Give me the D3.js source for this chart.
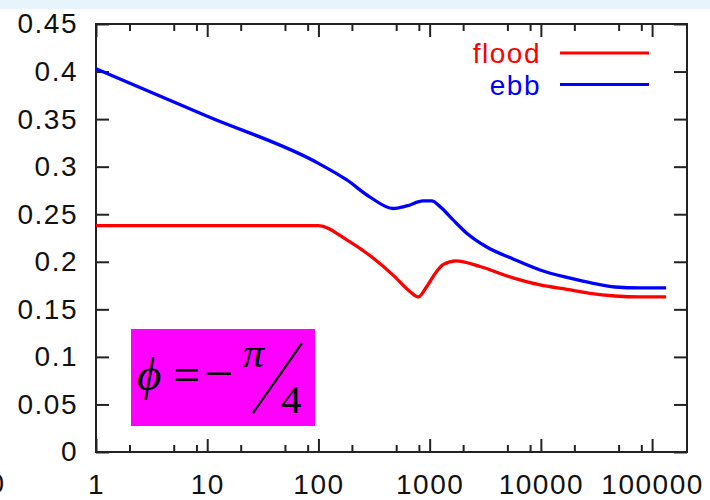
<!DOCTYPE html>
<head>
    <style>
        body {
            margin: 0;
            background: #fff;
            font-family: "Liberation Sans", Arial, sans-serif;
        }

        .axis text {
            font-size: 28px;
            letter-spacing: 1.5px;
            fill: #111;
        }

        .axis line {
            stroke: #222;
            stroke-width: 2px;
        }

        .axis path {
            display: none;
        }

        .formula text {
            font-family: "Liberation Serif", "DejaVu Serif", serif;
            fill: #000;
        }
    </style>

    <script src='https://d3js.org/d3.v7.min.js'></script>
</head>
<body>
    <script>
        const width = 710,
            height = 500;

        // plot box (pixels)
        const plotLeft = 96, plotRight = 687, plotTop = 24, plotBottom = 452;

        // DATA
        const floodX = [1, 10, 100, 180, 310, 469, 667, 787, 942, 1159, 1318, 1727, 2838, 5623, 9840, 17200, 27700, 46400, 78000, 133600];
        const floodY = [0.238, 0.238, 0.238, 0.223, 0.204, 0.186, 0.1685, 0.163, 0.174, 0.19, 0.197, 0.201, 0.195, 0.183, 0.1756, 0.1709, 0.1667, 0.164, 0.163, 0.163];

        const ebbX = [1, 10, 100, 180, 291, 469, 622, 872, 1045, 1241, 1625, 2157, 3262, 5623, 9840, 17200, 27700, 46400, 78000, 133600];
        const ebbY = [0.403, 0.353, 0.3035, 0.286, 0.268, 0.256, 0.2587, 0.264, 0.264, 0.258, 0.244, 0.23, 0.2155, 0.203, 0.1914, 0.1835, 0.178, 0.1735, 0.1725, 0.1725];

        const xTicks = [1, 10, 100, 1000, 10000, 100000];
        const xTickLabels = ['1', '10', '100', '1000', '10000', '100000'];
        const xMinorTicks = [2, 5, 8, 20, 50, 80, 200, 500, 800, 2000, 5000, 8000, 20000, 50000, 80000];
        const yTicks = [0, 0.05, 0.1, 0.15, 0.2, 0.25, 0.3, 0.35, 0.4, 0.45];
        const yTickLabels = ['0', '0.05', '0.1', '0.15', '0.2', '0.25', '0.3', '0.35', '0.4', '0.45'];

        const seriesNames = ['flood', 'ebb'];
        const seriesColors = ['#ff0000', '#0000ff'];

        const x = d3.scaleLog()
            .domain([1, 206000])
            .range([plotLeft, plotRight]);

        const y = d3.scaleLinear()
            .domain([0, 0.45])
            .range([plotBottom, plotTop]);

        const svg = d3.select('body').append('svg')
            .attr('width', width)
            .attr('height', height);

        // light blue strip at the top of the screenshot
        svg.append('rect')
            .attr('x', 0).attr('y', 0)
            .attr('width', width).attr('height', 9)
            .attr('fill', '#e8f4fc');

        // stray clipped label at the left edge
        svg.append('text')
            .attr('x', 4).attr('y', 493)
            .attr('text-anchor', 'end')
            .style('font-size', '28px')
            .style('fill', '#111')
            .text('0');

        // AXES (ticks point inward)
        svg.append('g').attr('class', 'axis')
            .attr('transform', `translate(0,${plotBottom})`)
            .call(d3.axisBottom(x).tickValues(xTicks)
                .tickFormat((d, i) => xTickLabels[i])
                .tickSizeInner(-13).tickSizeOuter(0).tickPadding(22));

        svg.append('g').attr('class', 'axis')
            .attr('transform', `translate(0,${plotBottom})`)
            .call(d3.axisBottom(x).tickValues(xMinorTicks).tickFormat('')
                .tickSizeInner(-7).tickSizeOuter(0));

        svg.append('g').attr('class', 'axis')
            .attr('transform', `translate(0,${plotTop})`)
            .call(d3.axisTop(x).tickValues(xTicks).tickFormat('')
                .tickSizeInner(-13).tickSizeOuter(0));

        svg.append('g').attr('class', 'axis')
            .attr('transform', `translate(0,${plotTop})`)
            .call(d3.axisTop(x).tickValues(xMinorTicks).tickFormat('')
                .tickSizeInner(-7).tickSizeOuter(0));

        svg.append('g').attr('class', 'axis')
            .attr('transform', `translate(${plotLeft},0)`)
            .call(d3.axisLeft(y).tickValues(yTicks)
                .tickFormat((d, i) => yTickLabels[i])
                .tickSizeInner(-13).tickSizeOuter(0).tickPadding(18));

        svg.append('g').attr('class', 'axis')
            .attr('transform', `translate(${plotRight},0)`)
            .call(d3.axisRight(y).tickValues(yTicks).tickFormat('')
                .tickSizeInner(-13).tickSizeOuter(0));

        // frame
        svg.append('rect')
            .attr('x', plotLeft).attr('y', plotTop)
            .attr('width', plotRight - plotLeft).attr('height', plotBottom - plotTop)
            .attr('fill', 'none')
            .attr('stroke', '#222')
            .attr('stroke-width', 2);

        // LINES
        const line = d3.line()
            .x(d => x(d[0]))
            .y(d => y(d[1]))
            .curve(d3.curveMonotoneX);

        const series = [d3.zip(floodX, floodY), d3.zip(ebbX, ebbY)];

        svg.selectAll('path.series')
            .data(series)
            .enter().append('path')
            .attr('class', 'series')
            .attr('d', line)
            .attr('fill', 'none')
            .attr('stroke', (d, i) => seriesColors[i])
            .attr('stroke-width', 3.3)
            .attr('stroke-linejoin', 'round');

        // LEGEND
        const legend = svg.selectAll('g.legend')
            .data(seriesNames)
            .enter().append('g')
            .attr('class', 'legend')
            .attr('transform', (d, i) => `translate(0,${53 + i * 31.5})`);

        legend.append('text')
            .attr('x', 541)
            .attr('y', 10)
            .attr('text-anchor', 'end')
            .style('font-size', '28px')
            .style('letter-spacing', '1.5px')
            .style('fill', (d, i) => seriesColors[i])
            .text(d => d);

        legend.append('line')
            .attr('x1', 560).attr('x2', 649)
            .attr('y1', 0).attr('y2', 0)
            .attr('stroke', (d, i) => seriesColors[i])
            .attr('stroke-width', 3);

        // FORMULA BOX  phi = -pi/4
        const f = svg.append('g').attr('class', 'formula')
            .attr('transform', 'translate(131,329)');

        f.append('rect')
            .attr('width', 184).attr('height', 97)
            .attr('fill', '#ff00ff');

        f.append('text')
            .attr('x', 6).attr('y', 61)
            .style('font-size', '47px')
            .style('font-style', 'italic')
            .text('ϕ');

        f.append('text')
            .attr('x', 42).attr('y', 62)
            .style('font-size', '48px')
            .text('=');

        f.append('text')
            .attr('x', 73).attr('y', 62)
            .style('font-size', '52px')
            .text('−');

        f.append('text')
            .attr('x', 112).attr('y', 38)
            .style('font-size', '42px')
            .style('font-style', 'italic')
            .text('π');

        f.append('line')
            .attr('x1', 171).attr('y1', 14)
            .attr('x2', 122).attr('y2', 84)
            .attr('stroke', '#000')
            .attr('stroke-width', 2.2);

        f.append('text')
            .attr('x', 150).attr('y', 84)
            .style('font-size', '41px')
            .text('4');
    </script>
</body>
